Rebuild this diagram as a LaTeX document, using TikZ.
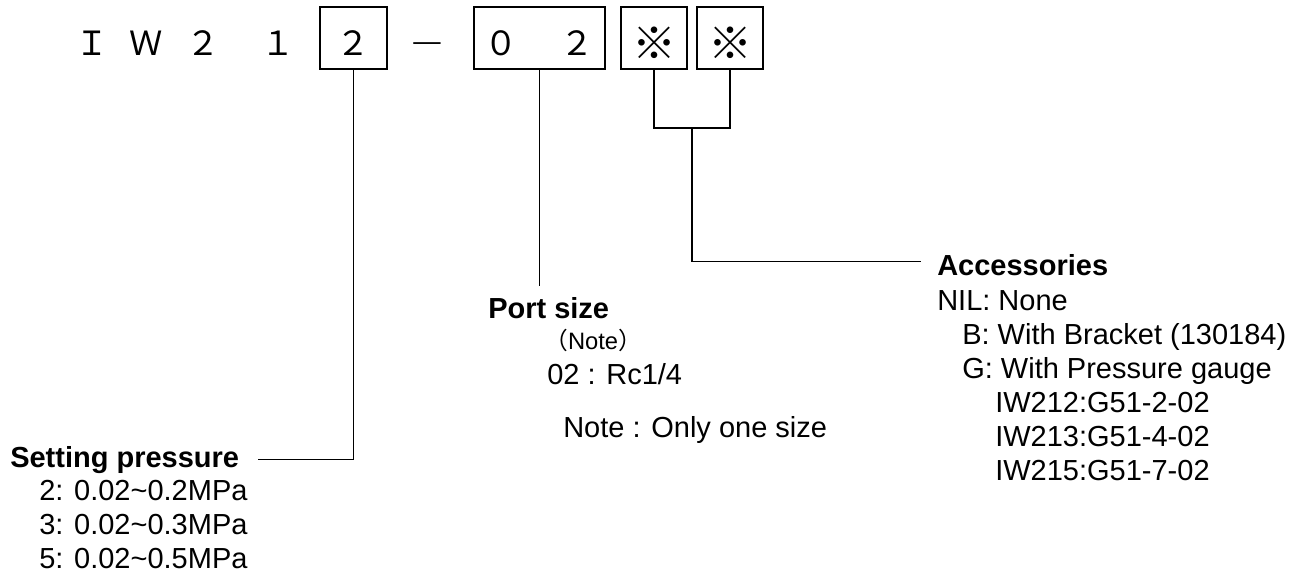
\documentclass[tikz,border=0pt]{standalone}
\usepackage{fontspec}
\setmainfont{Liberation Sans}
\newfontfamily\jpfont{Noto Sans CJK JP}
\usetikzlibrary{shapes}
\tikzstyle{code} = [font=\jpfont\fontsize{25pt}{28pt}\selectfont, inner sep=0pt, anchor=base]
\tikzstyle{codebox} = [rectangle, draw=black, line width=1.2pt, inner sep=0pt, minimum height=46.5pt, text height=25.5pt, text depth=0pt, font=\jpfont\fontsize{25pt}{28pt}\selectfont]
\tikzstyle{markbox} = [codebox, minimum width=49.5pt, font=\jpfont\fontsize{33pt}{36pt}\selectfont]
\tikzstyle{heading} = [font=\bfseries\fontsize{21.75pt}{25.6pt}\selectfont, inner sep=0pt, anchor=base west]
\tikzstyle{entry} = [font=\fontsize{21.75pt}{25.6pt}\selectfont, inner sep=0pt, anchor=base west]
\tikzstyle{entries} = [entry, align=left, anchor=north west]
\tikzstyle{leader} = [line width=1.2pt]
\begin{document}
\begin{tikzpicture}[x=0.75pt, y=-0.75pt]
\useasboundingbox (0,0) rectangle (1299,578);

% model code
\node[code] (cI) at (92,55) {Ｉ};
\node[code] (cW) at (146,55) {Ｗ};
\node[code] (c2) at (203,55) {２};
\node[code] (c1) at (278,55) {１};
\node[codebox, minimum width=50.25pt] (press) at (353.5,38) {２};
\node[code, font=\fontsize{20.5pt}{24pt}\selectfont] (dash) at (427,55) {\raisebox{3pt}{—}};
\node[codebox, minimum width=98.25pt] (port) at (539.5,38) {０\hspace{32pt}２};
\node[markbox] (accA) at (654,38) {\raisebox{-3pt}{※}};
\node[markbox] (accB) at (730,38) {\raisebox{-3pt}{※}};

% headings
\node[heading] (pressTitle) at (10,467) {Setting pressure};
\node[heading] (portTitle) at (488,318) {Port size};
\node[heading] (accTitle) at (937,275) {Accessories};

% lists
\node[entries] (pressList) at (39,473.3) {\rule{0pt}{20pt}2: 0.02\textasciitilde0.2MPa\\3: 0.02\textasciitilde0.3MPa\\5: 0.02\textasciitilde0.5MPa};
\node[entry, font=\fontsize{17.8pt}{20pt}\selectfont] (portNote) at (544,349) {{\jpfont （}Note{\jpfont ）}};
\node[entry] (portCode) at (547,384) {02 : Rc1/4};
\node[entry] (portRemark) at (563,437) {Note : Only one size};
\node[entries] (accList) at (937,283.3) {\rule{0pt}{20pt}NIL: None\\
  \hspace*{18.75pt}B: With Bracket (130184)\\
  \hspace*{18.75pt}G: With Pressure gauge\\
  \hspace*{43.5pt}IW212:G51-2-02\\
  \hspace*{43.5pt}IW213:G51-4-02\\
  \hspace*{43.5pt}IW215:G51-7-02};

% leaders
\path (pressTitle.east) ++(19,0) coordinate (pressEnd);
\draw[leader] (press.south) |- (pressEnd);
\path (port.south |- portTitle.north) ++(0,-11) coordinate (portEnd);
\draw[leader] (port.south) -- (portEnd);
\coordinate (accJoin) at (692,128);
\path (accTitle.west) ++(-16,-3) coordinate (accEnd);
\draw[leader] (accA.south) |- (accJoin) -| (accB.south);
\draw[leader] (accJoin) |- (accEnd);

\end{tikzpicture}
\end{document}
